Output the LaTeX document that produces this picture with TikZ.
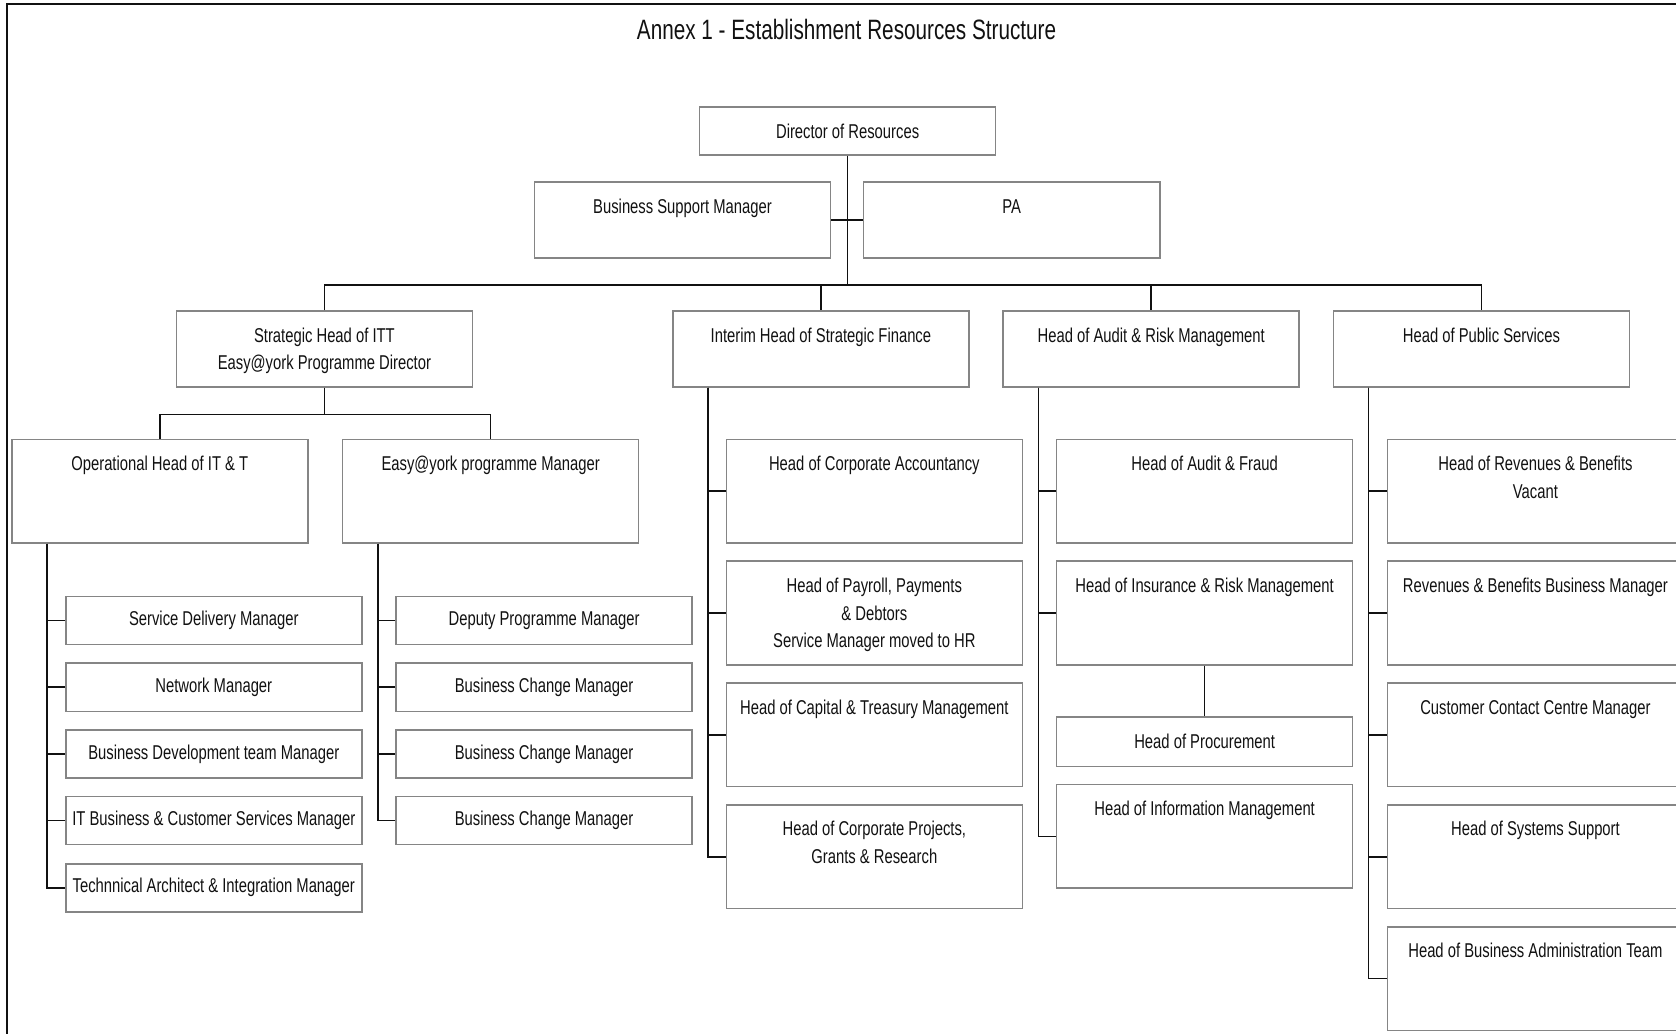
\documentclass[tikz,border=0pt]{standalone}
\usepackage{fontspec}
\setmainfont[FakeStretch=0.74]{Liberation Sans}
\usetikzlibrary{positioning,calc}
\definecolor{orgInk}{HTML}{111111}
\definecolor{orgFrame}{HTML}{858585}
\tikzset{
  orgBox/.style={draw=orgFrame,fill=white,text=orgInk,line width=0.8pt},
  orgEdge/.style={draw=orgInk,line width=0.8pt}
}

\begin{document}
\begin{tikzpicture}[x=0.5344pt,y=-0.5344pt,
  box/.style={orgBox,align=center,inner xsep=2pt,inner ysep=0pt,
    minimum width=148pt,font=\fontsize{10}{13.9}\selectfont},
  shortbox/.style={box,minimum height=24pt},
  midbox/.style={box,text height=15.5pt,text depth=22.4pt},
  midtwo/.style={box,text height=29.4pt,text depth=8.5pt},
  tallbox/.style={box,text height=15.5pt,text depth=36.3pt},
  talltwo/.style={box,text height=29.4pt,text depth=22.4pt},
  tallthree/.style={box,text height=43.3pt,text depth=8.5pt},
  link/.style={orgEdge}]
\useasboundingbox (0,0) rectangle (1568,967);
\draw[orgInk,line width=1pt] (1600,3.5) -- (7,3.5) -- (7,1000);
\node[text=orgInk] (title) at (792,28) {\fontsize{14}{16}\selectfont Annex 1 - Establishment Resources Structure};
% top of the tree
\node[shortbox] (dir) at (793,122.5) {Director of Resources};
\node[midbox] (bsm) at (638.5,206) {Business Support Manager};
\node[midbox] (pa) at (946.5,206) {PA};
\node[midtwo] (sh) at (303.5,326.5) {Strategic Head of ITT\\Easy@york Programme Director};
\node[midbox] (fin) at (768,326.5) {Interim Head of Strategic Finance};
\node[midbox] (aud) at (1077,326.5) {Head of Audit \& Risk Management};
\node[midbox] (pub) at (1386,326.5) {Head of Public Services};
% ITT
\node[tallbox] (ops) at (149.5,459.5) {Operational Head of IT \& T};
\node[tallbox] (eym) at (459,459.5) {Easy@york programme Manager};
\node[shortbox] (sdm) at (200,580.5) {Service Delivery Manager};
\node[shortbox] (net) at (200,643) {Network Manager};
\node[shortbox] (bdm) at (200,705.5) {Business Development team Manager};
\node[shortbox] (itb) at (200,767.5) {IT Business \& Customer Services Manager};
\node[shortbox] (tai) at (200,830.5) {Technnical Architect \& Integration Manager};
\node[shortbox] (dpm) at (509,580.5) {Deputy Programme Manager};
\node[shortbox] (bc1) at (509,643) {Business Change Manager};
\node[shortbox] (bc2) at (509,705.5) {Business Change Manager};
\node[shortbox] (bc3) at (509,767.5) {Business Change Manager};
% finance
\node[tallbox] (hca) at (818,459.5) {Head of Corporate Accountancy};
\node[tallthree] (hpp) at (818,573.5) {Head of Payroll, Payments\\\& Debtors\\Service Manager moved to HR};
\node[tallbox] (hct) at (818,687.5) {Head of Capital \& Treasury Management};
\node[talltwo] (hcp) at (818,801.5) {Head of Corporate Projects,\\Grants \& Research};
% audit
\node[tallbox] (haf) at (1127,459.5) {Head of Audit \& Fraud};
\node[tallbox] (hir) at (1127,573.5) {Head of Insurance \& Risk Management};
\node[shortbox,minimum height=24.6pt] (hpr) at (1127,694) {Head of Procurement};
\node[tallbox] (him) at (1127,782.5) {Head of Information Management};
% public services
\node[talltwo] (hrb) at (1436.5,459.5) {Head of Revenues \& Benefits\\Vacant};
\node[tallbox] (rbm) at (1436.5,573.5) {Revenues \& Benefits Business Manager};
\node[tallbox] (ccm) at (1436.5,687.5) {Customer Contact Centre Manager};
\node[tallbox] (hss) at (1436.5,801.5) {Head of Systems Support};
\node[tallbox] (hba) at (1436.5,915.5) {Head of Business Administration Team};
% connectors
\draw[link] (dir.south) -- ++(0,121) coordinate (hub);
\draw[link,line width=1.2pt] (bsm.east) -- (pa.west);
\draw[link] (sh.north) |- (hub) -| (pub.north);
\draw[link] (hub) -| (fin.north);
\draw[link] (hub) -| (aud.north);
\draw[link] (sh.south) -- ++(0,25) coordinate (shbar);
\draw[link] (ops.north) |- (shbar) -| (eym.north);
\foreach \c in {sdm,net,bdm,itb,tai} \draw[link] ([xshift=18pt]ops.south west) |- (\c.west);
\foreach \c in {dpm,bc1,bc2,bc3} \draw[link] ([xshift=18pt]eym.south west) |- (\c.west);
\foreach \c in {hca,hpp,hct,hcp} \draw[link] ([xshift=18pt]fin.south west) |- (\c.west);
\foreach \c in {haf,hir,him} \draw[link] ([xshift=18pt]aud.south west) |- (\c.west);
\draw[link] (hir.south) -- (hpr.north);
\foreach \c in {hrb,rbm,ccm,hss,hba} \draw[link] ([xshift=18pt]pub.south west) |- (\c.west);
\end{tikzpicture}
\end{document}
